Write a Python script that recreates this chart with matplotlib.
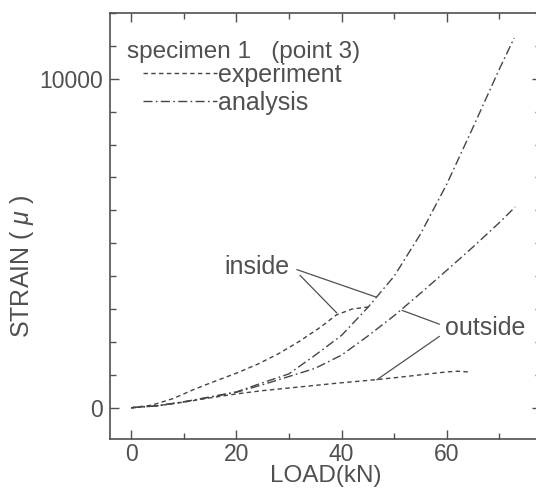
import matplotlib
matplotlib.use("Agg")
import matplotlib.pyplot as plt
from matplotlib.ticker import MultipleLocator, FixedLocator

plt.rcParams['font.family'] = ['Liberation Sans', 'DejaVu Sans']
plt.rcParams['mathtext.fontset'] = 'custom'
plt.rcParams['mathtext.it'] = 'Liberation Sans:italic'
plt.rcParams['mathtext.rm'] = 'Liberation Sans'
plt.rcParams['lines.scale_dashes'] = False

# ---- data (load kN -> strain micro) ----
exp_in_load = [0, 4, 8, 12, 16, 20, 24, 28, 32, 36, 39, 42, 45.4]
exp_in_strain = [0, 80, 280, 560, 810, 1050, 1320, 1640, 2020, 2450, 2820, 3000, 3070]

exp_out_load = [0, 5, 10, 15, 20, 25, 30, 35, 40, 45, 50, 55, 60, 62, 64]
exp_out_strain = [0, 60, 170, 300, 420, 520, 600, 680, 760, 830, 910, 1000, 1090, 1110, 1090]

ana_in_load = [0, 5, 10, 15, 20, 25, 30, 35, 40, 45, 50, 55, 60, 65, 70, 72.8]
ana_in_strain = [0, 60, 180, 330, 480, 760, 1030, 1600, 2200, 3050, 4000, 5280, 6800, 8530, 10300, 11240]

ana_out_load = [0, 5, 10, 15, 20, 25, 30, 35, 40, 45, 50, 55, 60, 65, 70, 73]
ana_out_strain = [0, 60, 180, 320, 470, 700, 950, 1200, 1600, 2180, 2800, 3480, 4180, 4890, 5630, 6103]

x_ticks = [0, 20, 40, 60]
y_ticks = [0, 10000]

TXT = '#505050'
LN = '#454545'

fig = plt.figure(figsize=(5.36, 4.90), dpi=100)
ax = fig.add_axes([110/536, 1-439/490, (541-110)/536, 426/490])
ax.set_xlim(-4, 77.9)
ax.set_ylim(-950, 12000)

exp_style = (0, (3.2, 2.4))
ana_style = (0, (6.5, 2.4, 1.2, 2.4))
lw = 1.0

l1, = ax.plot(exp_in_load, exp_in_strain, color=LN, lw=lw, ls=exp_style, label='experiment')
ax.plot(exp_out_load, exp_out_strain, color=LN, lw=lw, ls=exp_style)
l2, = ax.plot(ana_in_load, ana_in_strain, color=LN, lw=lw, ls=ana_style, label='analysis')
ax.plot(ana_out_load, ana_out_strain, color=LN, lw=lw, ls=ana_style)

for s in ax.spines.values():
    s.set_color(TXT)
    s.set_linewidth(1.2)

ax.xaxis.set_major_locator(FixedLocator(x_ticks))
ax.xaxis.set_minor_locator(MultipleLocator(10))
ax.yaxis.set_major_locator(FixedLocator(y_ticks))
ax.yaxis.set_minor_locator(MultipleLocator(1000))
ax.tick_params(which='both', direction='in', top=True, right=True, color=TXT,
               labelcolor=TXT, labelsize=16.5)
ax.tick_params(which='major', length=6.5, width=1.0)
ax.tick_params(which='minor', length=4.5, width=1.0)
ax.tick_params(axis='x', pad=3)
ax.tick_params(axis='y', pad=5)

ax.set_xlabel('LOAD(kN)', fontsize=17.5, color=TXT, labelpad=-1)
fig.text(22/536, 1-266/490, 'STRAIN ( $\\mathit{\\mu}$ )', rotation=90, fontsize=18,
         color=TXT, ha='center', va='center')

ax.text(-0.8, 10620, 'specimen 1   (point 3)', fontsize=17.5, color=TXT, va='baseline')
leg = ax.legend(handles=[l1, l2], loc='upper left', bbox_to_anchor=(33/431, (439-63)/426),
                frameon=False, fontsize=18, handlelength=2.95, handletextpad=0.04,
                borderpad=0, borderaxespad=0, labelspacing=0.15)
for t in leg.get_texts():
    t.set_color(TXT)

ax.text(24.0, 4280, 'inside', fontsize=18, color=TXT, ha='center', va='center')
ax.text(67.2, 2410, 'outside', fontsize=18, color=TXT, ha='center', va='center')

ap = dict(arrowstyle='-', color=TXT, lw=0.9, shrinkA=0, shrinkB=0)
ax.annotate('', xy=(46.5, 3368), xytext=(31.5, 4200), arrowprops=ap)
ax.annotate('', xy=(39.1, 2881), xytext=(32.1, 4027), arrowprops=ap)
ax.annotate('', xy=(51.5, 2960), xytext=(58.6, 2540), arrowprops=ap)
ax.annotate('', xy=(46.7, 850), xytext=(58.6, 2170), arrowprops=ap)

fig.savefig('out.png', dpi=100)
